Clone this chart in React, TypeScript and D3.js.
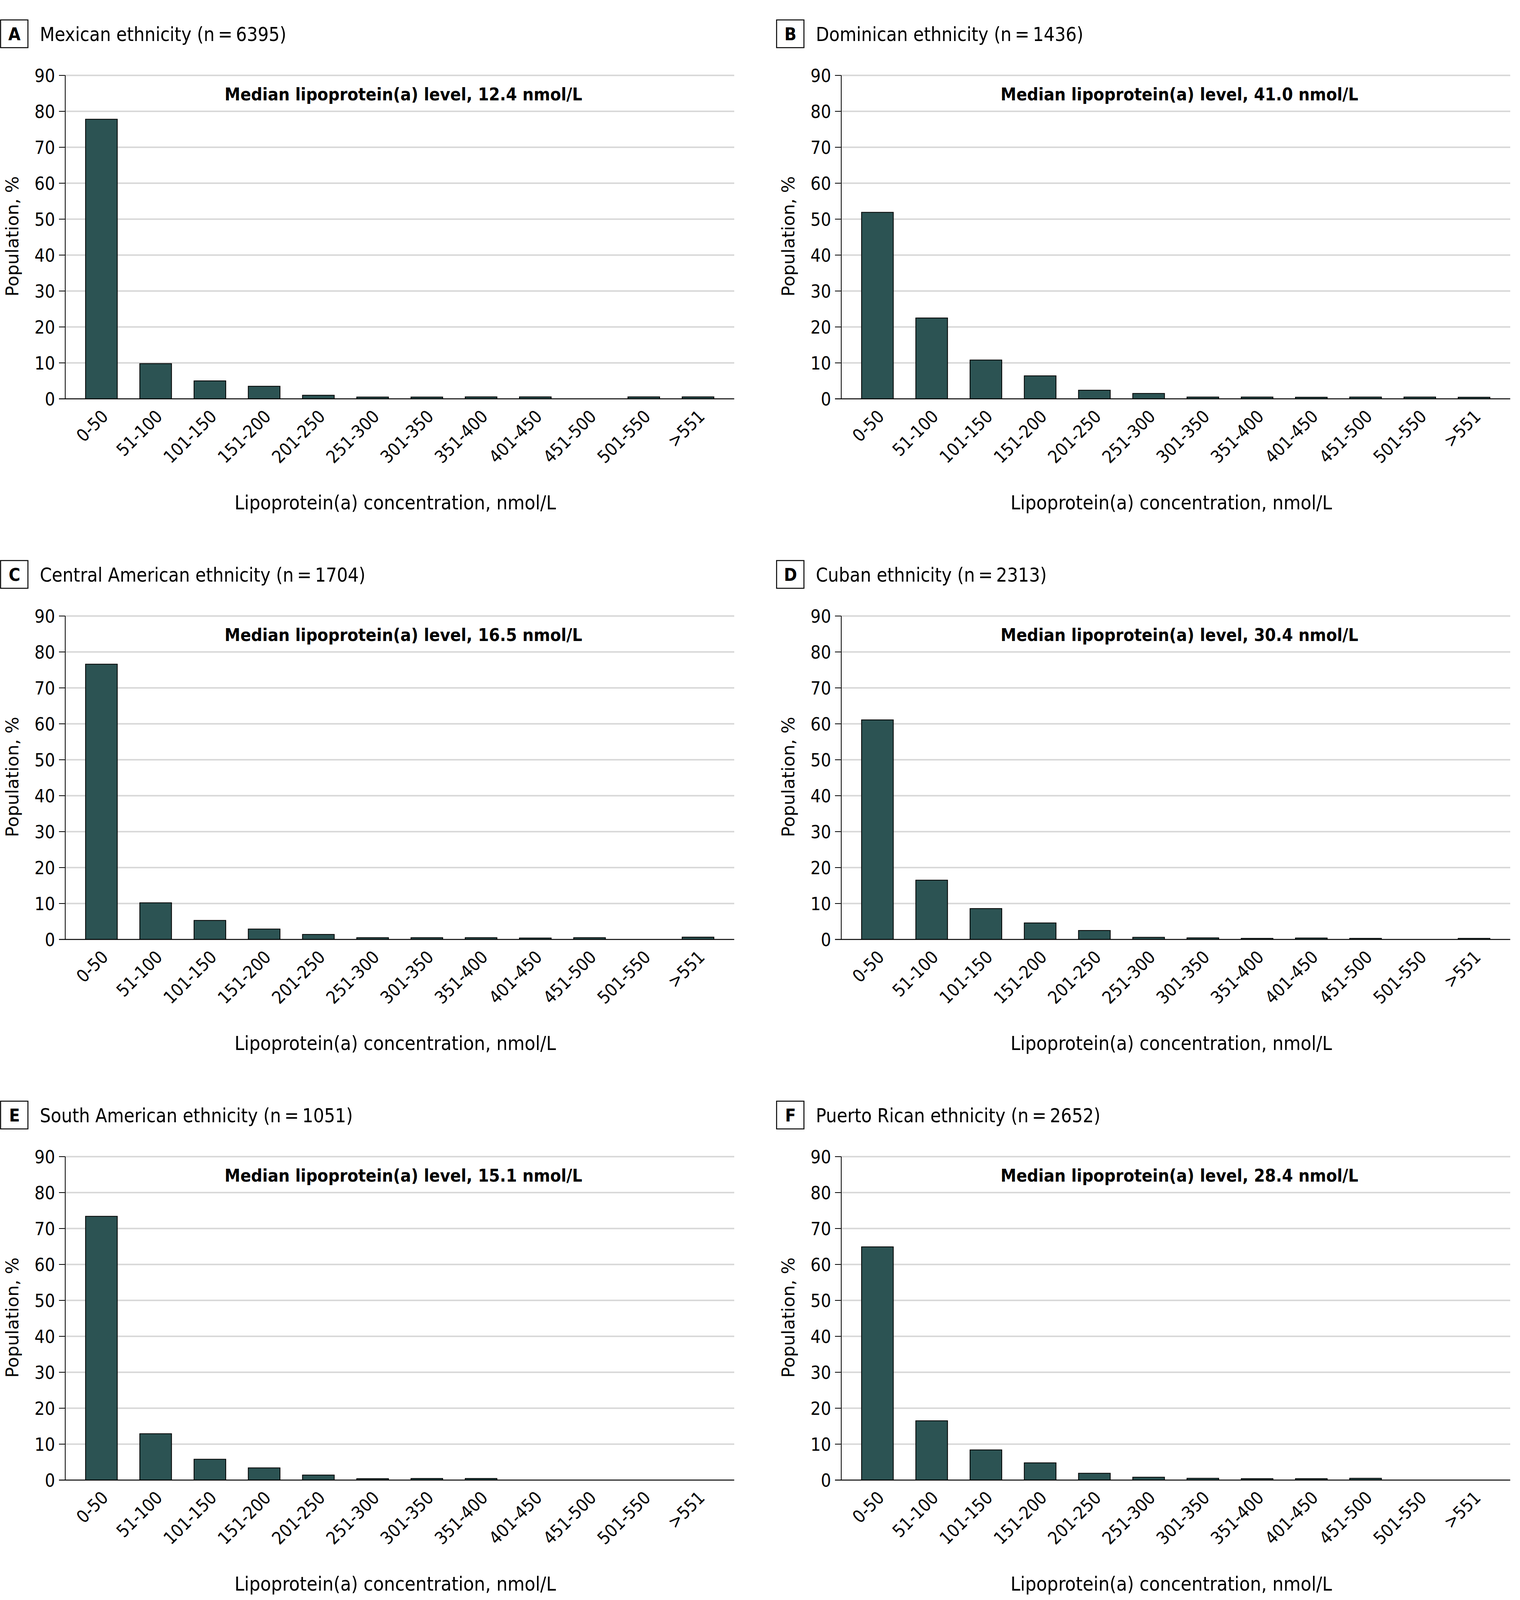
import * as d3 from "d3";

// bins of lipoprotein(a), nmol/L
const categories = [
  "0-50", "51-100", "101-150", "151-200", "201-250", "251-300",
  "301-350", "351-400", "401-450", "451-500", "501-550", ">551",
];

// population share per bin, %
const mexican = [77.8, 9.8, 5.0, 3.5, 1.0, 0.5, 0.5, 0.55, 0.55, 0, 0.55, 0.55];
const dominican = [51.9, 22.5, 10.8, 6.4, 2.4, 1.5, 0.5, 0.5, 0.45, 0.5, 0.5, 0.45];
const centralAmerican = [76.6, 10.2, 5.3, 2.9, 1.4, 0.5, 0.5, 0.5, 0.4, 0.5, 0, 0.65];
const cuban = [61.1, 16.5, 8.6, 4.6, 2.5, 0.6, 0.45, 0.3, 0.4, 0.3, 0, 0.3];
const southAmerican = [73.4, 12.9, 5.8, 3.4, 1.4, 0.4, 0.45, 0.45, 0, 0, 0, 0];
const puertoRican = [64.9, 16.5, 8.4, 4.8, 1.9, 0.8, 0.5, 0.4, 0.4, 0.5, 0, 0];

const letters = ["A", "B", "C", "D", "E", "F"];
const groups = [
  "Mexican ethnicity (n\u2009=\u20096395)",
  "Dominican ethnicity (n\u2009=\u20091436)",
  "Central American ethnicity (n\u2009=\u20091704)",
  "Cuban ethnicity (n\u2009=\u20092313)",
  "South American ethnicity (n\u2009=\u20091051)",
  "Puerto Rican ethnicity (n\u2009=\u20092652)",
];
const medians = ["12.4", "41.0", "16.5", "30.4", "15.1", "28.4"];
const seriesList = [mexican, dominican, centralAmerican, cuban, southAmerican, puertoRican];
const yTicks = [0, 10, 20, 30, 40, 50, 60, 70, 80, 90];

const W = 3892;
const H = 4125;
const COL = 1987;
const ROW = 1384;

const narrow = "'DejaVu Sans Condensed', 'DejaVu Sans', sans-serif";
const wide = "'DejaVu Sans', Verdana, sans-serif";
const barFill = "#2c5353";

const left = 167;
const right = 1880;
const top = 193;
const bottom = 1021;

function Panel({ i }: { i: number }) {
  const values = seriesList[i];
  const x = d3
    .scaleBand<string>()
    .domain(categories)
    .range([left, right])
    .paddingInner(0.415)
    .paddingOuter(0.375);
  const y = d3.scaleLinear().domain([0, 90]).range([bottom, top]);
  const tx = (i % 2) * COL;
  const ty = Math.floor(i / 2) * ROW;

  return (
    <g transform={`translate(${tx},${ty})`}>
      {/* panel letter + heading */}
      <rect x={1.5} y={51} width={70} height={71} fill="none" stroke="#000" strokeWidth={2.5} />
      <text x={37} y={103} textAnchor="middle" fontFamily={narrow} fontStretch="condensed" fontWeight="bold" fontSize={45}>
        {letters[i]}
      </text>
      <text x={102} y={105} fontFamily={narrow} fontStretch="condensed" fontSize={49}>
        {groups[i]}
      </text>

      {/* grid */}
      {yTicks.filter((t) => t > 0).map((t) => (
        <line key={t} x1={left} x2={right} y1={y(t)} y2={y(t)} stroke="#d9d9d9" strokeWidth={4} />
      ))}

      {/* bars */}
      {values.map((v, k) =>
        v > 0 ? (
          <rect
            key={k}
            x={x(categories[k])}
            y={y(v)}
            width={x.bandwidth()}
            height={bottom - y(v)}
            fill={barFill}
            stroke="#000"
            strokeWidth={2}
          />
        ) : null
      )}

      {/* axes */}
      <line x1={left} x2={left} y1={top} y2={bottom} stroke="#000" strokeWidth={2} />
      <line x1={left - 16} x2={right} y1={bottom} y2={bottom} stroke="#000" strokeWidth={2.5} />
      {yTicks.map((t) => (
        <g key={t}>
          <line x1={left - 16} x2={left} y1={y(t)} y2={y(t)} stroke="#000" strokeWidth={2} />
          <text x={left - 26} y={y(t)} dy="0.36em" textAnchor="end" fontFamily={narrow} fontStretch="condensed" fontSize={46}>
            {t}
          </text>
        </g>
      ))}
      {categories.map((c) => {
        const cx = (x(c) ?? 0) + x.bandwidth() / 2;
        return (
          <text
            key={c}
            transform={`translate(${cx + 20},${bottom + 48}) rotate(-45)`}
            textAnchor="end"
            fontFamily={narrow}
            fontStretch="condensed"
            fontSize={45}
          >
            {c}
          </text>
        );
      })}

      <text x={1033} y={257} textAnchor="middle" fontFamily={narrow} fontStretch="condensed" fontWeight="bold" fontSize={45}>
        Median lipoprotein(a) level, {medians[i]} nmol/L
      </text>

      <text transform={`translate(47,605) rotate(-90)`} textAnchor="middle" fontFamily={wide} fontSize={45}>
        Population, %
      </text>
      <text x={1012} y={1304} textAnchor="middle" fontFamily={narrow} fontStretch="condensed" fontSize={50}>
        Lipoprotein(a) concentration, nmol/L
      </text>
    </g>
  );
}

export default function App() {
  return (
    <svg
      width={W}
      height={H}
      viewBox={`0 0 ${W} ${H}`}
      style={{ position: "absolute", top: 0, left: 0, background: "#fff" }}
    >
      <rect width={W} height={H} fill="#fff" />
      {letters.map((_, i) => (
        <Panel key={i} i={i} />
      ))}
    </svg>
  );
}
